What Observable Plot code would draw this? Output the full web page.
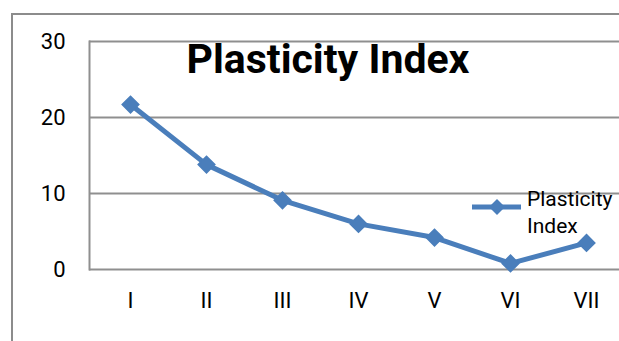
<!DOCTYPE html>
<html>
<head>
<meta charset="utf-8">
<script src="https://cdn.jsdelivr.net/npm/d3@7"></script>
<script src="https://cdn.jsdelivr.net/npm/@observablehq/plot@0.6"></script>
<style>
  html, body { margin: 0; padding: 0; background: #fff; overflow: hidden; }
  #wrap { position: relative; width: 619px; height: 341px; overflow: hidden; }
  #hline { position: absolute; left: 11px; top: 13px; width: 620px; height: 2px; background: #8c8c8c; }
  #vline { position: absolute; left: 11px; top: 13px; width: 2px; height: 340px; background: #8c8c8c; }
  #legend { position: absolute; left: 470px; top: 186px; font-family: "Roboto", sans-serif;
            font-size: 21px; color: #000; }
  #legend svg { position: absolute; left: 0; top: 6px; }
  #legend .t { position: absolute; left: 57px; top: 0; line-height: 27px; white-space: nowrap; }
  svg text { font-family: "Roboto", sans-serif; }
</style>
</head>
<body>
<div id="wrap"><div id="hline"></div><div id="vline"></div></div>
<script>
const categories = ["I", "II", "III", "IV", "V", "VI", "VII"];
const values = [21.7, 13.8, 9.1, 6.0, 4.2, 0.8, 3.5];
const yTicks = [0, 10, 20, 30];
const title = "Plasticity Index";
const seriesName = "Plasticity Index";

const data = categories.map((c, i) => ({cat: c, v: values[i]}));
const blue = "#4A7EBB";

const chart = Plot.plot({
  width: 619,
  height: 341,
  marginLeft: 89,
  marginRight: 0,
  marginTop: 41,
  marginBottom: 72,
  style: {background: "transparent", overflow: "visible"},
  x: {type: "point", domain: categories, padding: 0.5, range: [89, 626], label: null},
  y: {domain: [0, 30], ticks: yTicks, label: null},
  marks: [
    Plot.ruleY(yTicks, {stroke: "#8f8f8f", strokeWidth: 2}),
    Plot.frame({anchor: "left", stroke: "#8f8f8f", strokeWidth: 2}),
    Plot.axisY({ticks: yTicks, tickSize: 0, tickPadding: 24, fontSize: 22, label: null}),
    Plot.axisX({tickSize: 0, tickPadding: 23, fontSize: 22, label: null}),
    Plot.line(data, {x: "cat", y: "v", stroke: blue, strokeWidth: 5}),
    Plot.dot(data, {x: "cat", y: "v", symbol: "diamond2", r: 7.5, fill: blue, stroke: blue}),
    Plot.text([title], {frameAnchor: "top-left", textAnchor: "start", lineAnchor: "top", dx: 97, dy: 2,
      fontSize: 41, fontWeight: "bold", fill: "#000"})
  ]
});
chart.style.position = "absolute";
chart.style.left = "0px";
chart.style.top = "0px";
const wrap = document.getElementById("wrap");
wrap.appendChild(chart);

const legend = document.createElement("div");
legend.id = "legend";
legend.innerHTML = `<svg width="56" height="30"><line x1="2" y1="15" x2="51" y2="15" stroke="${blue}" stroke-width="5"/>` +
  `<path d="M27,7 L35,15 L27,23 L19,15 Z" fill="${blue}"/></svg>` +
  `<div class="t">${seriesName.split(" ").join("<br>")}</div>`;
wrap.appendChild(legend);
</script>
</body>
</html>
